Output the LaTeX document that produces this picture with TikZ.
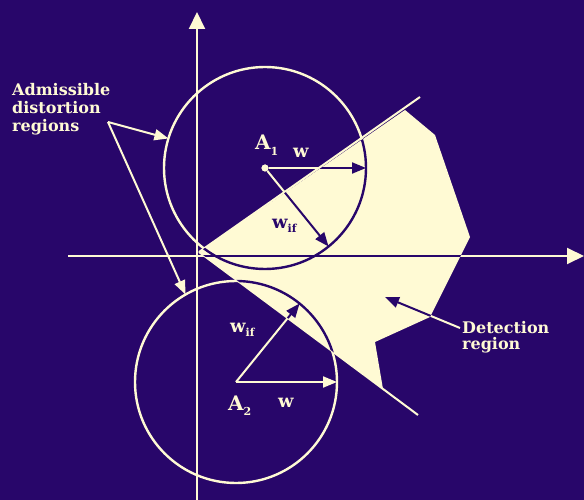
\documentclass[tikz,border=0pt]{standalone}
\usepackage{fontspec}
\setmainfont{DejaVu Serif}
\usetikzlibrary{arrows.meta}

\definecolor{slide}{RGB}{40,6,106}
\definecolor{cream}{RGB}{255,250,212}

% lowered index for the labels
\newcommand{\lowsub}[1]{\raisebox{-0.5ex}{\fontsize{11}{11}\selectfont #1}}

% every stroke of the figure, drawn in one colour
\newcommand{\drawpass}[1]{%
  \begin{scope}[color=#1]
    \draw[axis] (xl) -- (xr);
    \draw[axis] (yb) -- (yt);
    \node[region] (c1) at (a1) {};
    \node[region] (c2) at (a2) {};
    \draw[vec] (a1) -- (c1.east);
    \draw[vec] (a1) -- (c1.-51);
    \draw[vec] (a2) -- (c2.east);
    \draw[vec] (a2) -- (c2.51);
    \draw[vec] (adm) -- (c1.163);
    \draw[vec] (adm) -- (c2.120);
    \draw[vec] (detfrom) -- (dettip);
  \end{scope}}

\begin{document}
\begin{tikzpicture}[x=1pt,y=-1pt,
    axis/.style={line width=2pt, -{Triangle[length=17pt,width=16pt]}},
    vec/.style={line width=2pt, -{Triangle[length=14pt,width=11pt]}},
    region/.style={circle, draw, line width=2.4pt, minimum size=202pt, inner sep=0pt, outer sep=0pt},
    lbl/.style={font=\bfseries\fontsize{16}{18}\selectfont, align=left, text=cream, inner sep=0pt},
    sym/.style={font=\bfseries\fontsize{20}{20}\selectfont, text=cream, inner sep=0pt, anchor=base west},
    vsym/.style={font=\bfseries\fontsize{18}{18}\selectfont, text=cream, inner sep=0pt, anchor=base west}]
    \fill[slide] (0,0) rectangle (584,500);
    \useasboundingbox (0,0) rectangle (584,500);

    \coordinate (xl) at (68,256);
    \coordinate (xr) at (584,256);
    \coordinate (yb) at (197,500);
    \coordinate (yt) at (197,12);
    \coordinate (apex) at (199,252);
    \coordinate (uend) at (420,97);
    \coordinate (lend) at (418,415);
    \coordinate (a2) at (236,382);
    \coordinate (adm) at (108,122);
    \coordinate (detfrom) at (460,328);
    \coordinate (dettip) at (385,297);
    \node[circle, fill=cream, minimum size=7pt, inner sep=0pt] (a1) at (265,168) {};

    % detection region
    \fill[cream] (apex) -- (405,110) -- (435,135) -- (470,237) -- (430,317)
        -- (375,342) -- (383,389) -- cycle;
    \drawpass{cream}
    \draw[cream, line width=2pt] (apex) -- (uend);
    \draw[cream, line width=2pt] (apex) -- (lend);
    \begin{scope}
      \clip (apex) -- (405,110) -- (435,135) -- (470,237) -- (430,317)
          -- (375,342) -- (383,389) -- cycle;
      \drawpass{slide}
    \end{scope}
    \fill[cream] (a1) circle[radius=3.5];

    \node[lbl, anchor=north west] (adml) at (12,83) {Admissible\\distortion\\regions};
    \node[lbl, anchor=north west, font=\bfseries\fontsize{16}{16}\selectfont] (detl) at (462,321) {Detection\\region};
    \node[sym] (la1) at (255,150) {A\lowsub{1}};
    \node[vsym] (lw1) at (293,158) {w};
    \node[vsym, text=slide] (lwif1) at (272,228) {w\lowsub{if}};
    \node[sym] (la2) at (228,410) {A\lowsub{2}};
    \node[vsym] (lw2) at (278,407) {w};
    \node[vsym] (lwif2) at (230,332) {w\lowsub{if}};
\end{tikzpicture}
\end{document}
